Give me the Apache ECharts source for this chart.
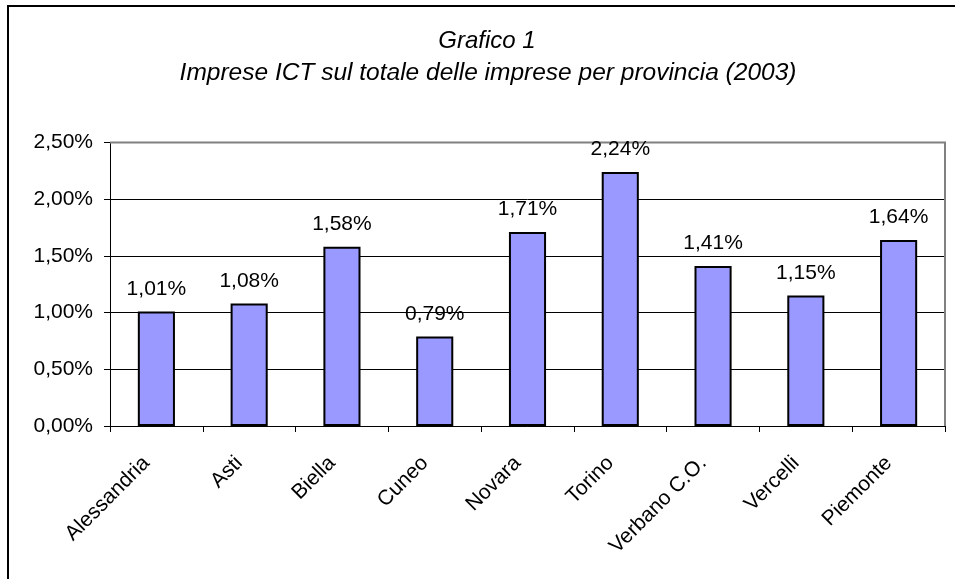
<!DOCTYPE html>
<html>
<head>
<meta charset="utf-8">
<script src="https://cdn.jsdelivr.net/npm/echarts@6/dist/echarts.min.js"></script>
<style>
  html, body { margin: 0; padding: 0; background: #fff; }
  #chart { width: 955px; height: 579px; }
</style>
</head>
<body>
<div id="chart"></div>
<script>
// dati del grafico
var province = ['Alessandria', 'Asti', 'Biella', 'Cuneo', 'Novara', 'Torino', 'Verbano C.O.', 'Vercelli', 'Piemonte'];
var quotaICT = [1.01, 1.08, 1.58, 0.79, 1.71, 2.24, 1.41, 1.15, 1.64];
var yTicks = [0, 0.5, 1, 1.5, 2, 2.5];

var FONT = '"Liberation Sans", Arial, sans-serif';

function pct(v) {
  return v.toFixed(2).replace('.', ',') + '%';
}

var chart = echarts.init(document.getElementById('chart'));

var option = {
  animation: false,
  backgroundColor: '#fff',
  textStyle: { fontFamily: FONT },
  title: [
    {
      text: 'Grafico 1',
      left: 482, top: 24, textAlign: 'center',
      textStyle: { fontFamily: FONT, fontStyle: 'italic', fontWeight: 'normal', fontSize: 24, color: '#000' }
    },
    {
      text: 'Imprese ICT sul totale delle imprese per provincia (2003)',
      left: 483, top: 56, textAlign: 'center',
      textStyle: { fontFamily: FONT, fontStyle: 'italic', fontWeight: 'normal', fontSize: 24.5, color: '#000' }
    }
  ],
  graphic: [
    // cornice esterna
    {
      type: 'rect', z: 0,
      shape: { x: 8, y: 6, width: 1000, height: 700 },
      style: { fill: 'none', stroke: '#000', lineWidth: 2 }
    },
    // bordo grigio area del grafico (alto e destra)
    {
      type: 'polyline', z: 1,
      shape: { points: [[110, 142.5], [945, 142.5], [945, 426]] },
      style: { fill: 'none', stroke: '#808080', lineWidth: 2 }
    }
  ],
  grid: { left: 110, right: 10, top: 142.5, bottom: 153, containLabel: false },
  xAxis: {
    type: 'category',
    data: province,
    axisLine: { lineStyle: { color: '#000', width: 1 } },
    axisTick: { show: true, length: 6, lineStyle: { color: '#000' } },
    axisLabel: {
      rotate: 45, fontSize: 21, color: '#000', fontFamily: FONT,
      margin: 24, interval: 0, padding: [0, 14, 0, 0]
    }
  },
  yAxis: {
    type: 'value',
    min: 0, max: 2.5, interval: 0.5,
    axisLine: { show: true, lineStyle: { color: '#000', width: 1 } },
    axisTick: { show: true, length: 6, lineStyle: { color: '#000' } },
    axisLabel: { fontSize: 21, color: '#000', fontFamily: FONT, margin: 17, formatter: pct },
    splitLine: { show: true, lineStyle: { color: '#000', width: 1 } }
  },
  series: [{
    type: 'bar',
    data: quotaICT,
    barWidth: '40%',
    itemStyle: { color: '#9999ff', borderColor: '#000', borderWidth: 2 },
    label: {
      show: true, position: 'top', distance: 12,
      fontSize: 21, color: '#000', fontFamily: FONT,
      formatter: function (p) { return pct(p.value); }
    }
  }]
};

chart.setOption(option);
</script>
</body>
</html>
